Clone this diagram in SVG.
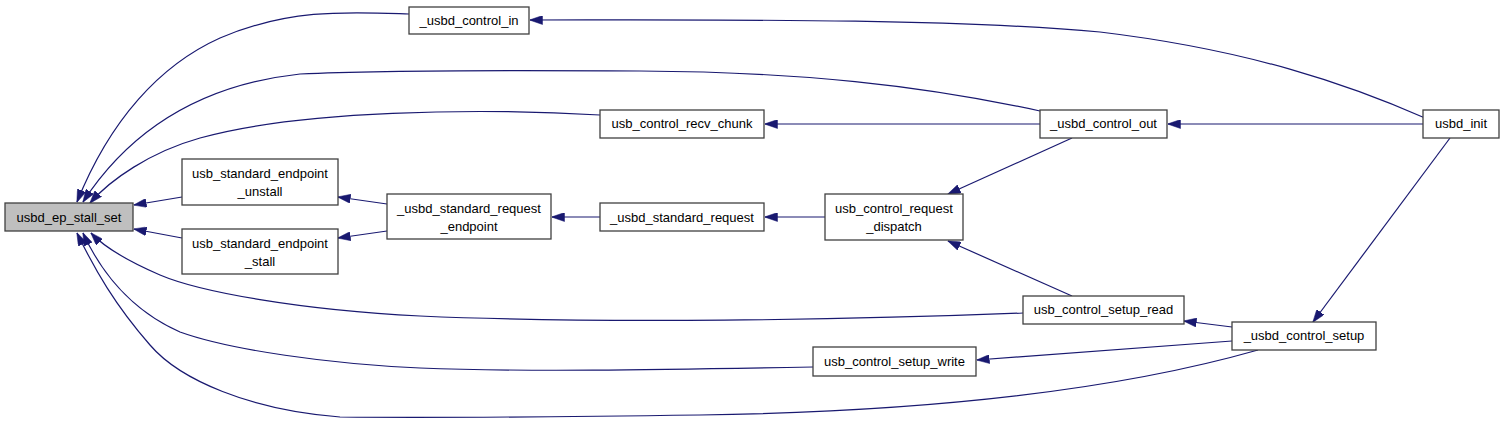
<svg xmlns="http://www.w3.org/2000/svg" width="1504" height="423" viewBox="0 0 1504 423">
<style>
.n rect{fill:#ffffff;stroke:#404040;stroke-width:1.3}
.n.main rect{fill:#bfbfbf}
.n text{font-family:"Liberation Sans",Arial,sans-serif;font-size:13px;fill:#000;text-anchor:middle}
.e path{fill:none;stroke:#191970;stroke-width:1.2;marker-end:url(#ah)}
</style>
<defs>
<marker id="ah" viewBox="0 0 13 9" refX="12.5" refY="4.5" markerWidth="13" markerHeight="9" markerUnits="userSpaceOnUse" orient="auto">
<path d="M0,0 L13,4.5 L0,9 z" fill="#191970" stroke="#191970" stroke-width="0.5"/>
</marker>
</defs>
<rect width="1504" height="423" fill="#ffffff"/>
<g id="connectors" class="e">
<path d="M409,14 C350,12 290,8 220,38 C160,65 110,120 77,202"/>
<path d="M1040,111 C920,85 800,72 640,71 C500,70 380,70 300,74 C200,85 130,130 83,202"/>
<path d="M600,115 C480,108 300,110 200,138 C150,152 110,180 90,203"/>
<path d="M182,197 L134,205"/>
<path d="M182,238 L134,229"/>
<path d="M1023,313 C850,320 600,324 420,316 C300,310 200,292 160,275 C130,262 105,248 91,233"/>
<path d="M813,367 C650,370 520,372 420,368 C330,364 230,350 180,332 C130,310 100,270 83,233"/>
<path d="M1258,350 C1100,395 900,412 700,415 C550,417 420,418 340,417 C250,410 180,380 150,345 C115,305 95,270 77,233"/>
<path d="M1425,118 C1350,85 1250,50 1100,32 C950,18 700,20 530,20"/>
<path d="M1040,124 L765,124"/>
<path d="M1423,124 L1168,124"/>
<path d="M387,204 L338,197"/>
<path d="M387,231 L338,238"/>
<path d="M600,217 L552,217"/>
<path d="M825,217 L765,217"/>
<path d="M1072,138 L948,194"/>
<path d="M1072,296 L948,241"/>
<path d="M1232,327 L1184,321"/>
<path d="M1232,341 L977,360"/>
<path d="M1450,138 L1313,322"/>
</g>
<g id="usbd_ep_stall_set" class="n main"><rect x="5" y="203" width="128" height="28"/><text x="69" y="222">usbd_ep_stall_set</text></g>
<g id="_usbd_control_in" class="n"><rect x="409" y="7" width="120" height="27"/><text x="469" y="25">_usbd_control_in</text></g>
<g id="usb_control_recv_chunk" class="n"><rect x="600" y="110" width="164" height="28"/><text x="682" y="128">usb_control_recv_chunk</text></g>
<g id="_usbd_standard_request" class="n"><rect x="600" y="203" width="164" height="28"/><text x="682" y="222">_usbd_standard_request</text></g>
<g id="usb_standard_endpoint_unstall" class="n"><rect x="182" y="159" width="156" height="46"/><text x="260" y="178">usb_standard_endpoint</text><text x="260" y="196">_unstall</text></g>
<g id="usb_standard_endpoint_stall" class="n"><rect x="182" y="229" width="156" height="45"/><text x="260" y="248">usb_standard_endpoint</text><text x="260" y="266">_stall</text></g>
<g id="_usbd_standard_request_endpoint" class="n"><rect x="387" y="194" width="164" height="45"/><text x="469" y="213">_usbd_standard_request</text><text x="469" y="231">_endpoint</text></g>
<g id="usb_control_request_dispatch" class="n"><rect x="825" y="194" width="138" height="46"/><text x="894" y="213">usb_control_request</text><text x="894" y="231">_dispatch</text></g>
<g id="_usbd_control_out" class="n"><rect x="1040" y="110" width="127" height="28"/><text x="1103.5" y="128">_usbd_control_out</text></g>
<g id="usbd_init" class="n"><rect x="1423" y="110" width="76" height="28"/><text x="1461" y="128">usbd_init</text></g>
<g id="usb_control_setup_read" class="n"><rect x="1023" y="296" width="161" height="28"/><text x="1103.5" y="314">usb_control_setup_read</text></g>
<g id="_usbd_control_setup" class="n"><rect x="1232" y="322" width="144" height="28"/><text x="1304" y="340">_usbd_control_setup</text></g>
<g id="usb_control_setup_write" class="n"><rect x="813" y="347" width="163" height="29"/><text x="894.5" y="366">usb_control_setup_write</text></g>
</svg>
